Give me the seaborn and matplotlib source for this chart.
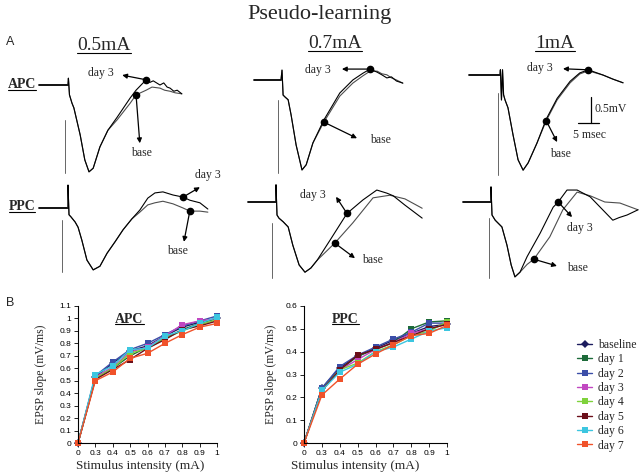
import matplotlib
matplotlib.use('Agg')
import matplotlib.pyplot as plt
import seaborn as sns
import pandas as pd
from matplotlib.lines import Line2D
from matplotlib.transforms import IdentityTransform

W, H = 640, 475
PX_MS = 4.2    # pixels per ms (5 msec scale bar)
PX_MV = 52.0   # pixels per mV (0.5mV scale bar)

# ---------------- Panel A: field EPSP traces (ms, mV) ----------------
# APC 0.5mA
apc05_early_t = [0, 0.1, 0.35, 0.95, 1.4, 2.9, 4.0, 5.0, 6.0, 7.6, 9.5]
apc05_early_v = [0, 0.13, -0.19, -0.35, -0.44, -0.96, -1.44, -1.67, -1.6, -1.19, -0.87]
apc05_day3_t = [11.7, 14.8, 16.2, 18.6, 19.5, 20.3, 21.9, 22.8, 23.6, 24.3, 25.2, 26.0, 27.1]
apc05_day3_v = [-0.62, -0.25, -0.1, 0.1, 0.05, 0.08, 0.0, 0.04, -0.04, -0.06, -0.12, -0.1, -0.17]
apc05_base_t = [11.7, 14.8, 16.2, 18.6, 20.0, 21.9, 23.0, 24.3, 25.5, 27.1]
apc05_base_v = [-0.67, -0.35, -0.19, -0.1, -0.04, -0.06, -0.1, -0.12, -0.15, -0.17]
apc05_art_t = [-0.7, -0.7]
apc05_art_v = [-0.67, -1.7]

# APC 0.7mA
apc07_early_t = [0, 0.24, 0.5, 1.0, 1.7, 2.4, 3.6, 5.0, 6.0, 7.6]
apc07_early_v = [0, 0.19, -0.29, -0.33, -0.38, -0.67, -1.25, -1.73, -1.63, -1.21]
apc07_day3_t = [10.2, 14.0, 17.1, 19.5, 21.2, 22.9, 24.0, 25.2, 26.3, 27.5, 29.0]
apc07_day3_v = [-0.77, -0.25, 0.0, 0.13, 0.21, 0.15, 0.1, 0.04, 0.06, -0.02, -0.06]
apc07_base_v = [-0.81, -0.31, -0.06, 0.08, 0.17, 0.17, 0.12, 0.1, 0.04, 0.0, -0.06]
apc07_art_t = [-0.7, -0.7]
apc07_art_v = [-0.38, -1.79]

# APC 1mA
apc10_early_t = [0, 0.1, 0.35, 0.6, 0.85, 1.2, 1.9, 3.1, 4.3, 5.5, 6.7, 8.8]
apc10_early_v = [0, 0.1, -0.48, 0.1, -0.38, -0.48, -0.63, -1.15, -1.63, -1.83, -1.69, -1.31]
apc10_day3_t = [11.0, 13.6, 16.7, 19.0, 21.0, 24.5, 26.9, 29.3]
apc10_day3_v = [-0.85, -0.45, -0.12, 0.04, 0.1, 0.0, -0.08, -0.15]
apc10_base_v = [-0.88, -0.48, -0.15, 0.02, 0.08, 0.0, -0.08, -0.15]
apc10_art_t = [-0.5, -0.5]
apc10_art_v = [-0.35, -1.92]

# PPC 0.5mA
ppc05_early_t = [0, 0, 0.24, 0.7, 1.7, 2.4, 3.3, 4.5, 6.0, 7.6, 9.3, 11.2, 13.1, 15.2]
ppc05_early_v = [0, 0.44, -0.13, -0.17, -0.27, -0.37, -0.62, -1.0, -1.19, -1.12, -0.87, -0.65, -0.42, -0.21]
ppc05_day3_t = [17.1, 19.0, 20.7, 22.6, 25.0, 27.4, 29.0, 31.4, 33.3]
ppc05_day3_v = [-0.04, 0.19, 0.29, 0.31, 0.25, 0.21, 0.15, 0.1, -0.02]
ppc05_base_v = [-0.08, 0.06, 0.1, 0.13, 0.08, 0.0, -0.06, -0.06, -0.08]
ppc05_art_t = [-1.4, -1.4]
ppc05_art_v = [-0.23, -1.23]

# PPC 0.7mA
ppc07_early_t = [0, 0, 0.24, 0.7, 1.7, 2.9, 4.0, 5.5, 6.9, 8.3, 9.8]
ppc07_early_v = [0, 0.33, -0.25, -0.31, -0.38, -0.48, -0.83, -1.21, -1.35, -1.27, -1.12]
ppc07_day3_t = [12.9, 16.9, 20.7, 24.0, 26.4, 27.9, 30.7, 34.8]
ppc07_day3_v = [-0.73, -0.22, 0.04, 0.23, 0.17, 0.12, -0.06, -0.31]
ppc07_base_t = [14.0, 18.3, 23.1, 27.1, 30.7, 34.8]
ppc07_base_v = [-0.79, -0.4, 0.08, 0.13, 0.06, -0.12]
ppc07_art_t = [-1.0, -1.0]
ppc07_art_v = [-0.4, -1.46]

# PPC 1mA
ppc10_early_t = [0, 0, 0.24, 1.0, 2.6, 3.8, 4.8, 5.7, 6.9]
ppc10_early_v = [0, 0.29, -0.25, -0.35, -0.48, -0.83, -1.21, -1.44, -1.35]
ppc10_day3_t = [8.6, 11.7, 14.8, 16.0, 18.1, 20.5, 23.6, 26.0, 29.0, 30.5, 32.4, 35.0]
ppc10_day3_v = [-1.05, -0.6, -0.1, 0.0, 0.23, 0.23, 0.1, -0.1, -0.35, -0.3, -0.25, -0.15]
ppc10_base_t = [8.6, 10.2, 14.0, 17.1, 20.5, 23.6, 27.1, 30.7, 35.0]
ppc10_base_v = [-1.2, -1.1, -0.67, -0.15, 0.19, 0.12, 0.0, -0.02, -0.15]
ppc10_art_t = [-0.5, -0.5]
ppc10_art_v = [-0.31, -1.46]

# ---------------- Panel B: EPSP slope (mV/ms) ----------------
intensity_labels = ['0', '0.3', '0.4', '0.5', '0.6', '0.7', '0.8', '0.9', '1']
sessions = ['baseline', 'day 1', 'day 2', 'day 3', 'day 4', 'day 5', 'day 6', 'day 7']
session_colors = ['#1c1c5e', '#1d6b3a', '#3b4ea8', '#c147c1', '#7fd23c', '#6b0f1a', '#3cc6e0', '#f0522a']

apc_baseline = [0, 0.53, 0.64, 0.74, 0.78, 0.86, 0.93, 0.97, 1.00]
apc_day1 = [0, 0.52, 0.60, 0.70, 0.77, 0.84, 0.91, 0.96, 1.00]
apc_day2 = [0, 0.54, 0.65, 0.75, 0.80, 0.87, 0.94, 0.98, 1.02]
apc_day3 = [0, 0.53, 0.61, 0.73, 0.77, 0.86, 0.95, 0.98, 1.00]
apc_day4 = [0, 0.52, 0.60, 0.72, 0.76, 0.84, 0.90, 0.95, 0.99]
apc_day5 = [0, 0.51, 0.59, 0.67, 0.76, 0.83, 0.91, 0.94, 0.98]
apc_day6 = [0, 0.55, 0.62, 0.75, 0.76, 0.86, 0.90, 0.96, 1.01]
apc_day7 = [0, 0.50, 0.57, 0.68, 0.72, 0.80, 0.87, 0.93, 0.96]

ppc_baseline = [0, 0.24, 0.33, 0.38, 0.415, 0.45, 0.48, 0.51, 0.52]
ppc_day1 = [0, 0.24, 0.32, 0.38, 0.41, 0.44, 0.50, 0.53, 0.535]
ppc_day2 = [0, 0.24, 0.335, 0.385, 0.42, 0.455, 0.485, 0.525, 0.525]
ppc_day3 = [0, 0.23, 0.32, 0.365, 0.41, 0.44, 0.48, 0.50, 0.52]
ppc_day4 = [0, 0.23, 0.32, 0.35, 0.40, 0.43, 0.47, 0.49, 0.53]
ppc_day5 = [0, 0.23, 0.32, 0.385, 0.41, 0.44, 0.47, 0.50, 0.52]
ppc_day6 = [0, 0.23, 0.31, 0.345, 0.40, 0.42, 0.455, 0.49, 0.505]
ppc_day7 = [0, 0.21, 0.28, 0.345, 0.39, 0.43, 0.47, 0.48, 0.515]

apc_table = [apc_baseline, apc_day1, apc_day2, apc_day3, apc_day4, apc_day5, apc_day6, apc_day7]
ppc_table = [ppc_baseline, ppc_day1, ppc_day2, ppc_day3, ppc_day4, ppc_day5, ppc_day6, ppc_day7]

rows = []
for region, table in [('APC', apc_table), ('PPC', ppc_table)]:
    for s, vals in zip(sessions, table):
        for i, v in enumerate(vals):
            rows.append((region, s, i, v))
df = pd.DataFrame(rows, columns=['region', 'session', 'pos', 'slope'])

sns.set_style('ticks')
plt.rcParams['font.family'] = ['Liberation Serif', 'DejaVu Serif']

fig = plt.figure(figsize=(6.4, 4.75), dpi=100)


def fx(px):
    return px / W


def fy(py):
    return 1 - py / H


underlined = []


def ftext(px, py, s, size, underline=False, **kw):
    t = fig.text(fx(px), fy(py), s, fontsize=size, ha='center', va='center', **kw)
    if underline:
        underlined.append(t)
    return t


def trace_axes(x0, y0):
    # 200x130 px box, stimulus onset sits at pixel (x0, y0)
    left, top = x0 - 45, y0 - 35
    ax = fig.add_axes([fx(left), fy(top + 130), 200 / W, 130 / H])
    ax.set_xlim(-45 / PX_MS, 155 / PX_MS)
    ax.set_ylim(-95 / PX_MV, 35 / PX_MV)
    ax.axis('off')
    ax.patch.set_alpha(0)
    return ax


def arrow(ax, start, end):
    ax.annotate('', xy=end, xytext=start,
                arrowprops=dict(arrowstyle='-|>', color='k', lw=0.9,
                                mutation_scale=7, shrinkA=0, shrinkB=0))


# (pixel origin, stim start, early, day3, base, artifact, annotations)
panels = [
    ((68, 85), -6.9, (apc05_early_t, apc05_early_v),
     (apc05_day3_t, apc05_day3_v), (apc05_base_t, apc05_base_v), (apc05_art_t, apc05_art_v),
     ((18.6, 0.1), (12.9, 0.19), (7.9, 0.24)), ((16.2, -0.19), (17.1, -1.12), (17.4, -1.3))),
    ((281, 80), -6.4, (apc07_early_t, apc07_early_v),
     (apc07_day3_t, apc07_day3_v), (apc07_day3_t, apc07_base_v), (apc07_art_t, apc07_art_v),
     ((21.2, 0.21), (14.5, 0.21), (8.8, 0.2)), ((10.2, -0.81), (18.1, -1.12), (23.6, -1.16))),
    ((500, 75), -7.4, (apc10_early_t, apc10_early_v),
     (apc10_day3_t, apc10_day3_v), (apc10_day3_t, apc10_base_v), (apc10_art_t, apc10_art_v),
     ((21.0, 0.1), (15.0, 0.12), (9.5, 0.14)), ((11.0, -0.88), (13.6, -1.29), (14.5, -1.52))),
    ((68, 208), -6.9, (ppc05_early_t, ppc05_early_v),
     (ppc05_day3_t, ppc05_day3_v), (ppc05_day3_t, ppc05_base_v), (ppc05_art_t, ppc05_art_v),
     ((27.4, 0.21), (31.4, 0.4), (33.3, 0.63)), ((29.0, -0.06), (27.6, -0.65), (26.0, -0.82))),
    ((276, 202), -6.7, (ppc07_early_t, ppc07_early_v),
     (ppc07_day3_t, ppc07_day3_v), (ppc07_base_t, ppc07_base_v), (ppc07_art_t, ppc07_art_v),
     ((16.9, -0.22), (14.3, 0.1), (8.8, 0.13)), ((14.0, -0.79), (18.8, -1.08), (22.9, -1.12))),
    ((491, 202), -6.7, (ppc10_early_t, ppc10_early_v),
     (ppc10_day3_t, ppc10_day3_v), (ppc10_base_t, ppc10_base_v), (ppc10_art_t, ppc10_art_v),
     ((16.0, 0.0), (19.3, -0.29), (21.2, -0.5)), ((10.2, -1.1), (15.7, -1.23), (20.5, -1.26))),
]

trace_axs = []
for origin, stim0, early, d3, bs, art, ann3, annb in panels:
    ax = trace_axes(*origin)
    trace_axs.append(ax)
    ax.plot([stim0, 0], [0, 0], color='k', lw=1.3, clip_on=False)
    ax.plot(art[0], art[1], color='0.4', lw=0.7, clip_on=False)
    ax.plot(early[0] + bs[0], early[1] + bs[1], color='0.3', lw=0.8, clip_on=False)
    ax.plot(early[0] + d3[0], early[1] + d3[1], color='k', lw=0.8, clip_on=False)
    for (dot, head, txt), label in [(ann3, 'day 3'), (annb, 'base')]:
        ax.plot(*dot, 'o', color='k', ms=4.5, clip_on=False)
        arrow(ax, dot, head)
        ax.text(txt[0], txt[1], label, fontsize=8.5, ha='center', va='center')

# scale bar in the APC 1mA panel
ax = trace_axs[2]
ax.plot([21.7, 21.7], [-0.42, -0.92], color='k', lw=0.9)
ax.plot([18.6, 23.6], [-0.92, -0.92], color='k', lw=0.9)
ax.text(22.6, -0.65, '0.5mV', fontsize=8.5, ha='left', va='center')
ax.text(21.4, -1.15, '5 msec', fontsize=8.5, ha='center', va='center')

# ---------------- Panel B axes ----------------
marker_map = {s: ('D' if s == 'baseline' else 's') for s in sessions}
palette = dict(zip(sessions, session_colors))


def slope_axes(left, right, region, ymax, ylab_x, xlab_x, title_x, legend):
    ax = fig.add_axes([fx(left), fy(443), (right - left) / W, (443 - 306) / H])
    sns.lineplot(data=df[df.region == region], x='pos', y='slope', hue='session',
                 style='session', hue_order=sessions, style_order=sessions,
                 palette=palette, markers=marker_map, dashes=False, markersize=4,
                 linewidth=1.0, markeredgewidth=0, legend=legend, ax=ax)
    for ln in ax.lines:
        ln.set_clip_on(False)
    ax.set_xlim(0, 8)
    ax.set_ylim(0, ymax)
    ax.set_xticks(range(9))
    ax.set_xticklabels(intensity_labels)
    yt = [round(0.1 * i, 1) for i in range(int(round(ymax * 10)) + 1)]
    ax.set_yticks(yt)
    ax.set_yticklabels([f'{v:g}' for v in yt])
    ax.tick_params(direction='out', length=3, width=0.6, labelsize=6, pad=2, colors='k')
    for lbl in ax.get_xticklabels() + ax.get_yticklabels():
        lbl.set_family(['Liberation Sans', 'DejaVu Sans'])
    sns.despine(ax=ax)
    for sp in ['left', 'bottom']:
        ax.spines[sp].set_color('k')
        ax.spines[sp].set_linewidth(0.8)
    ax.set_ylabel('EPSP slope (mV/ms)', fontsize=8.5)
    ax.yaxis.set_label_coords(ylab_x, 0.5)
    ax.set_xlabel('Stimulus intensity (mA)', fontsize=9.5)
    ax.xaxis.set_label_coords(xlab_x, -0.125)
    t = ax.text(title_x, 0.905, region, transform=ax.transAxes, fontsize=10,
                fontweight='bold', ha='center', va='center')
    underlined.append(t)
    return ax


ax_apc = slope_axes(78, 217, 'APC', 1.1, -0.22, 0.45, 0.37, False)
ax_ppc = slope_axes(304, 447, 'PPC', 0.6, -0.19, 0.36, 0.29, True)

handles, labels = ax_ppc.get_legend_handles_labels()
ax_ppc.get_legend().remove()
fig.legend(handles, labels, loc='upper left', bbox_to_anchor=(fx(577), fy(339)),
           frameon=False, fontsize=8.5, handlelength=1.3, labelspacing=0.2,
           handletextpad=0.5, borderaxespad=0, borderpad=0)

# ---------------- figure text ----------------
ftext(320, 14, 'Pseudo-learning', 16)
ftext(10, 42, 'A', 9, family=['Liberation Sans', 'DejaVu Sans'])
ftext(10, 303, 'B', 9, family=['Liberation Sans', 'DejaVu Sans'])
ftext(104, 46, '0.5mA', 14, underline=True)
ftext(335, 44, '0.7mA', 14, underline=True)
ftext(555, 44, '1mA', 14, underline=True)
ftext(22, 85, 'APC', 10, underline=True, fontweight='bold')
ftext(22, 207, 'PPC', 10, underline=True, fontweight='bold')

# underline the headings
fig.canvas.draw()
for t in underlined:
    bb = t.get_window_extent()
    fig.add_artist(Line2D([bb.x0, bb.x1], [bb.y0 + 1.5] * 2, transform=IdentityTransform(),
                          color='k', lw=0.8))

fig.savefig('out.png', dpi=100)
